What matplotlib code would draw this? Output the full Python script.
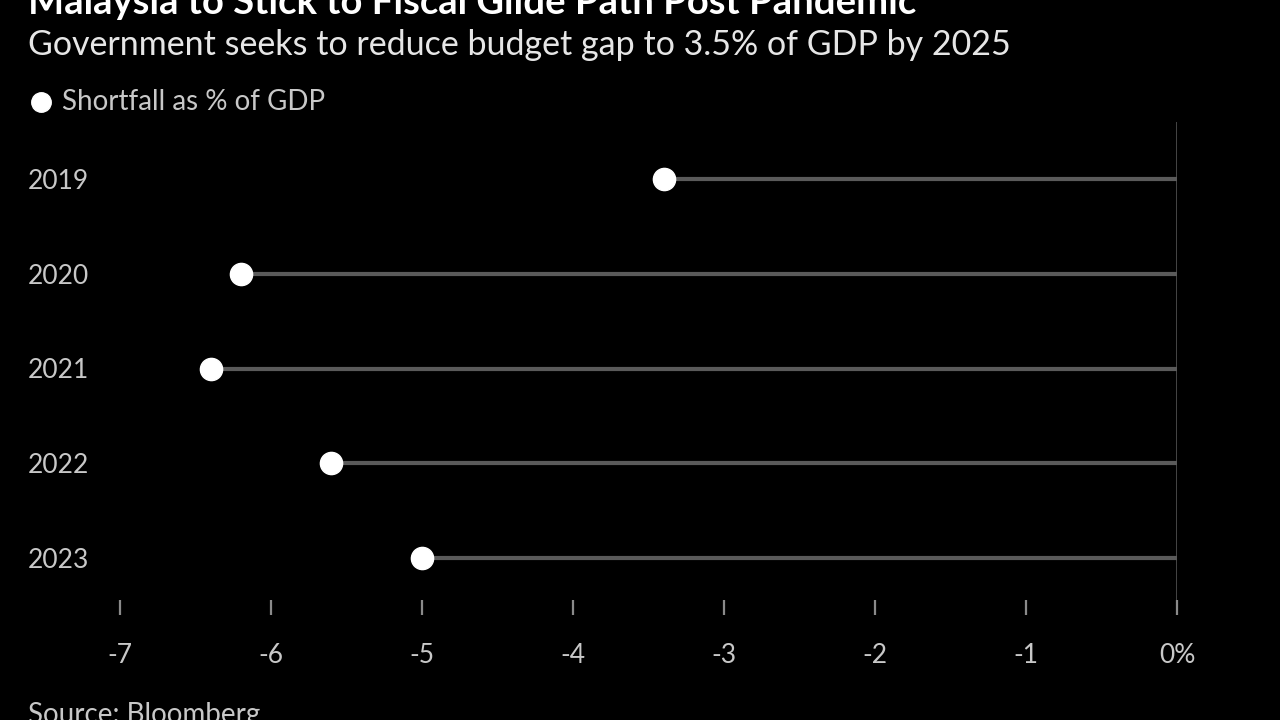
import matplotlib.pyplot as plt

years = ["2019", "2020", "2021", "2022", "2023"]
shortfall = [-3.4, -6.2, -6.4, -5.6, -5.0]
xticks = [-7, -6, -5, -4, -3, -2, -1, 0]
xtick_labels = ["-7", "-6", "-5", "-4", "-3", "-2", "-1", "0%"]

plt.rcParams['font.family'] = ['Lato', 'DejaVu Sans']

fig = plt.figure(figsize=(12.8, 7.2), dpi=100, facecolor='black')
ax = fig.add_axes([120 / 1280, 1 - 615 / 720, (1177 - 120) / 1280, (615 - 122) / 720])
ax.set_facecolor('black')

ypos = list(range(len(years)))
# lollipop stems to zero
ax.hlines(ypos, shortfall, 0, color='#5a5a5a', linewidth=3, zorder=1)
ax.axvline(0, color='#5a5a5a', linewidth=1.8, zorder=1)
ax.plot(shortfall, ypos, 'o', color='white', markersize=16, zorder=3)

ax.set_xlim(-7, 0)
ax.set_ylim(4.6, -0.6)
for s in ax.spines.values():
    s.set_visible(False)

ax.set_xticks(xticks)
ax.set_xticklabels(xtick_labels)
ax.tick_params(axis='x', direction='in', length=11, width=1.6, color='#8a8a8a',
               labelcolor='#c8c8c8', labelsize=19, pad=20)
ax.set_yticks(ypos)
ax.set_yticklabels(years)
ax.tick_params(axis='y', length=0, labelcolor='#c8c8c8', labelsize=19, pad=0)
for lbl in ax.get_yticklabels():
    lbl.set_horizontalalignment('left')
    lbl.set_x(-92 / 1057)

fig.text(28 / 1280, 1 - 14 / 720, "Malaysia to Stick to Fiscal Glide Path Post Pandemic",
         color='white', fontsize=27.5, fontweight='bold', va='baseline')
fig.text(28 / 1280, 1 - 45 / 720, "Government seeks to reduce budget gap to 3.5% of GDP by 2025",
         color='#e6e6e6', fontsize=24.5, va='center')
fig.lines.append(plt.Line2D([41 / 1280], [1 - 102 / 720], marker='o', color='white',
                            markersize=14, transform=fig.transFigure))
fig.text(62 / 1280, 1 - 102 / 720, "Shortfall as % of GDP", color='#c8c8c8',
         fontsize=20, va='center')
fig.text(28 / 1280, 1 - 702 / 720, "Source: Bloomberg", color='#c8c8c8',
         fontsize=20, va='top')

fig.savefig('out.png', dpi=100, facecolor='black')
